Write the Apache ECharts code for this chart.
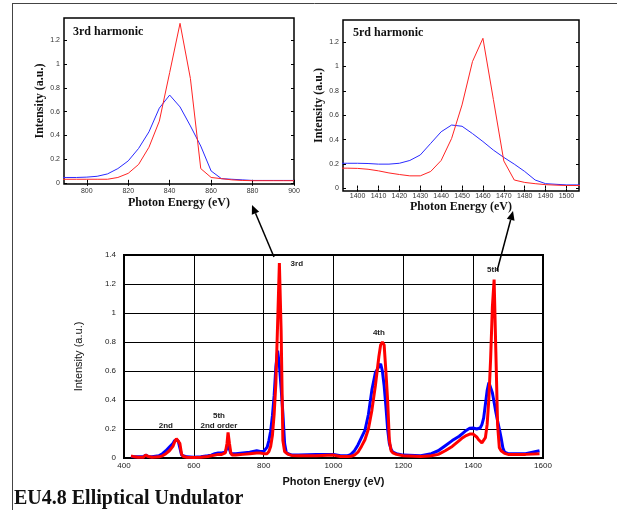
<!DOCTYPE html>
<html><head><meta charset="utf-8">
<script src="https://cdn.jsdelivr.net/npm/echarts@6/dist/echarts.min.js"></script>
<style>html,body{margin:0;padding:0;background:#fff}#c{width:617px;height:510px}</style>
</head><body><div id="c"></div>
<script>
// ---------- main chart data ----------
const mainEnergy = [420,430,440,455,462,466,470,480,500,510,
  520,530,540,545,550,555,560,565,570,580,
  600,620,640,650,660,670,680,690,695,698,
  702,706,710,720,740,760,780,790,800,805,
  810,815,820,825,830,835,840,845,850,855,
  860,865,870,880,900,950,1000,1020,1040,1050,
  1060,1070,1080,1090,1100,1110,1120,1130,1135,1140,
  1145,1150,1155,1160,1165,1170,1180,1200,1250,1280,
  1300,1320,1340,1360,1370,1380,1390,1395,1400,1405,
  1410,1415,1420,1425,1430,1435,1440,1445,1450,1455,
  1460,1465,1470,1475,1480,1485,1490,1500,1550,1590];
const mainBlue = [0.01,0.008,0.008,0.008,0.02,0.025,0.01,0.008,0.015,0.03,
  0.05,0.075,0.1,0.12,0.125,0.12,0.07,0.02,0.01,0.008,
  0.005,0.008,0.015,0.02,0.03,0.035,0.035,0.04,0.07,0.09,
  0.06,0.03,0.025,0.03,0.035,0.04,0.05,0.045,0.045,0.055,
  0.075,0.12,0.185,0.29,0.43,0.63,0.74,0.64,0.48,0.31,
  0.1,0.035,0.03,0.02,0.02,0.025,0.025,0.015,0.015,0.025,
  0.05,0.09,0.14,0.19,0.3,0.47,0.59,0.63,0.65,0.6,
  0.5,0.36,0.2,0.1,0.06,0.04,0.03,0.02,0.015,0.03,
  0.05,0.085,0.12,0.15,0.17,0.19,0.205,0.207,0.207,0.205,
  0.2,0.2,0.207,0.23,0.275,0.37,0.465,0.52,0.51,0.45,
  0.385,0.315,0.255,0.2,0.14,0.07,0.04,0.03,0.03,0.05];
const mainRed = [0.015,0.008,0.005,0.005,0.02,0.03,0.01,0.005,0.008,0.015,
  0.03,0.05,0.08,0.11,0.133,0.135,0.1,0.025,0.01,0.005,
  0.003,0.005,0.01,0.015,0.02,0.025,0.025,0.035,0.1,0.177,
  0.1,0.035,0.02,0.02,0.025,0.03,0.035,0.035,0.03,0.03,
  0.03,0.045,0.08,0.155,0.3,0.52,0.93,1.345,0.88,0.12,
  0.045,0.035,0.025,0.018,0.015,0.015,0.02,0.01,0.01,0.012,
  0.02,0.04,0.08,0.126,0.2,0.33,0.5,0.7,0.78,0.8,
  0.78,0.6,0.4,0.12,0.05,0.035,0.025,0.015,0.01,0.015,
  0.025,0.05,0.08,0.12,0.14,0.155,0.165,0.167,0.165,0.158,
  0.145,0.128,0.115,0.104,0.104,0.14,0.23,0.41,0.685,1.04,
  1.23,0.73,0.226,0.07,0.05,0.04,0.032,0.025,0.025,0.03];
const annoText = ['2nd','5th','2nd order','3rd','4th','5th'];
const annoE = [520,672,672,895,1130,1457];
const annoI = [0.223,0.294,0.223,1.34,0.862,1.297];

// ---------- 3rd harmonic inset ----------
const h3Energy = [785,790,795,800,805,810,815,820,825,830,835,840,845,850,855,860,865,870,875,880,885,890,895,900];
const h3Blue = [0.045,0.045,0.045,0.048,0.055,0.075,0.12,0.185,0.29,0.43,0.63,0.74,0.64,0.48,0.31,0.1,0.035,0.03,0.025,0.02,0.02,0.02,0.02,0.02];
const h3Red  = [0.03,0.03,0.03,0.03,0.03,0.03,0.045,0.08,0.155,0.3,0.52,0.93,1.345,0.88,0.12,0.045,0.035,0.025,0.02,0.018,0.018,0.018,0.018,0.018];
const h3XTicks = [800,820,840,860,880,900];

// ---------- 5th harmonic inset ----------
const h5Energy = [1390,1395,1400,1405,1410,1415,1420,1425,1430,1435,1440,1445,1450,1455,1460,1465,1470,1475,1480,1485,1490,1495,1500,1505,1510];
const h5Blue = [0.207,0.207,0.207,0.205,0.2,0.2,0.207,0.23,0.275,0.37,0.465,0.52,0.51,0.45,0.385,0.315,0.255,0.2,0.14,0.07,0.04,0.035,0.03,0.03,0.03];
const h5Red  = [0.167,0.167,0.165,0.158,0.145,0.128,0.115,0.104,0.104,0.14,0.23,0.41,0.685,1.04,1.23,0.73,0.226,0.07,0.05,0.04,0.032,0.028,0.025,0.025,0.025];
const h5XTicks = [1400,1410,1420,1430,1440,1450,1460,1470,1480,1490,1500];
const insetYTicks = [0,0.2,0.4,0.6,0.8,1,1.2];

const zip = (xs, ys) => xs.map((x, i) => [x, ys[i]]);
const fmt = v => String(Math.round(v * 1000) / 1000);
const serif = '"Liberation Serif","Times New Roman",serif';
const sans = '"Liberation Sans",Arial,sans-serif';

function insetX(grid, min, max, ticks, gap, margin) {
  return {
    type: 'value', gridIndex: grid, min: min, max: max,
    axisLine: {show: false},
    axisTick: {show: true, inside: true, length: 3, customValues: ticks, lineStyle: {color: '#000'}},
    axisLabel: {customValues: ticks, formatter: fmt, fontSize: 7, color: '#333', fontFamily: sans, margin: margin},
    splitLine: {show: false},
    name: 'Photon Energy (eV)', nameLocation: 'middle', nameGap: gap,
    nameTextStyle: {fontFamily: serif, fontWeight: 'bold', fontSize: 12, color: '#111'}
  };
}
function insetXTop(grid, min, max, ticks) {
  return {
    type: 'value', gridIndex: grid, min: min, max: max, position: 'top',
    axisLine: {show: false},
    axisTick: {show: true, inside: true, length: 3, customValues: ticks, lineStyle: {color: '#000'}},
    axisLabel: {show: false}, splitLine: {show: false}
  };
}
function insetY(grid, min, max, gap) {
  return {
    type: 'value', gridIndex: grid, min: min, max: max,
    axisLine: {show: false},
    axisTick: {show: true, inside: true, length: 3, customValues: insetYTicks, lineStyle: {color: '#000'}},
    axisLabel: {customValues: insetYTicks, formatter: fmt, fontSize: 7, color: '#333', fontFamily: sans, margin: 4},
    splitLine: {show: false},
    name: 'Intensity (a.u.)', nameLocation: 'middle', nameGap: gap,
    nameTextStyle: {fontFamily: serif, fontWeight: 'bold', fontSize: 12, color: '#111'}
  };
}
function insetYRight(grid, min, max) {
  return {
    type: 'value', gridIndex: grid, min: min, max: max, position: 'right',
    axisLine: {show: false},
    axisTick: {show: true, inside: true, length: 3, customValues: insetYTicks, lineStyle: {color: '#000'}},
    axisLabel: {show: false}, splitLine: {show: false}
  };
}
function lineSeries(xi, yi, data, color, width, z) {
  return {
    type: 'line', xAxisIndex: xi, yAxisIndex: yi, data: data,
    showSymbol: false, symbol: 'none', z: z,
    lineStyle: {color: color, width: width}, itemStyle: {color: color},
    silent: true, animation: false
  };
}

function arrow(tail, tip) {
  const dx = tip[0] - tail[0], dy = tip[1] - tail[1];
  const L = Math.hypot(dx, dy), ux = dx / L, uy = dy / L;
  const hl = 9, hw = 4;
  const bx = tip[0] - hl * ux, by = tip[1] - hl * uy;
  const nx = -uy, ny = ux;
  return [
    {type: 'line', shape: {x1: tail[0], y1: tail[1], x2: bx, y2: by}, style: {stroke: '#000', lineWidth: 1.5}, z: 100},
    {type: 'polygon', shape: {points: [[tip[0], tip[1]], [bx + hw * nx, by + hw * ny], [bx - hw * nx, by - hw * ny]]}, style: {fill: '#000'}, z: 100}
  ];
}

const chart = echarts.init(document.getElementById('c'), null, {renderer: 'canvas'});
const option = {
  animation: false,
  backgroundColor: '#fff',
  grid: [
    {left: 124, top: 255, width: 419, height: 203, show: true, borderColor: '#000', borderWidth: 2, backgroundColor: 'transparent'},
    {left: 64, top: 18, width: 230, height: 166, show: true, borderColor: '#000', borderWidth: 1.5, backgroundColor: 'transparent'},
    {left: 343, top: 20, width: 236, height: 171, show: true, borderColor: '#000', borderWidth: 1.5, backgroundColor: 'transparent'}
  ],
  xAxis: [
    {
      type: 'value', gridIndex: 0, min: 400, max: 1600, interval: 200,
      axisLine: {show: true, lineStyle: {color: '#000', width: 2}},
      axisTick: {show: false},
      axisLabel: {fontSize: 8, color: '#222', fontFamily: sans, margin: 4, formatter: fmt},
      splitLine: {show: true, lineStyle: {color: '#000', width: 1}},
      name: 'Photon Energy (eV)', nameLocation: 'middle', nameGap: 18,
      nameTextStyle: {fontFamily: sans, fontWeight: 'bold', fontSize: 11, color: '#111'}
    },
    insetX(1, 789, 900, h3XTicks, 13, 4),
    insetX(2, 1393, 1506, h5XTicks, 5, 2),
    insetXTop(1, 789, 900, h3XTicks),
    insetXTop(2, 1393, 1506, h5XTicks)
  ],
  yAxis: [
    {
      type: 'value', gridIndex: 0, min: 0, max: 1.4, interval: 0.2,
      axisLine: {show: true, lineStyle: {color: '#000', width: 2}},
      axisTick: {show: false},
      axisLabel: {fontSize: 8, color: '#222', fontFamily: sans, margin: 8, formatter: fmt},
      splitLine: {show: true, lineStyle: {color: '#000', width: 1}},
      name: 'Intensity (a.u.)', nameLocation: 'middle', nameGap: 40,
      nameTextStyle: {fontFamily: sans, fontSize: 11, color: '#111'}
    },
    insetY(1, -0.01, 1.39, 15),
    insetY(2, -0.02, 1.38, 12),
    insetYRight(1, -0.01, 1.39),
    insetYRight(2, -0.02, 1.38)
  ],
  series: [
    lineSeries(0, 0, zip(mainEnergy, mainBlue), '#0000ff', 3, 2),
    Object.assign(lineSeries(0, 0, zip(mainEnergy, mainRed), '#ff0000', 3, 3), {
      markPoint: {
        symbol: 'circle', symbolSize: 0, silent: true, animation: false,
        label: {show: true, position: 'inside', formatter: '{b}', fontSize: 8, fontWeight: 'bold', color: '#222', fontFamily: sans},
        data: annoText.map((t, i) => ({name: t, coord: [annoE[i], annoI[i]]}))
      }
    }),
    lineSeries(1, 1, zip(h3Energy, h3Blue), '#2a2aff', 1, 2),
    lineSeries(1, 1, zip(h3Energy, h3Red), '#ff2424', 1, 3),
    lineSeries(2, 2, zip(h5Energy, h5Blue), '#2a2aff', 1, 2),
    lineSeries(2, 2, zip(h5Energy, h5Red), '#ff2424', 1, 3)
  ],
  graphic: [
    {type: 'line', shape: {x1: 12, y1: 3.5, x2: 617, y2: 3.5}, style: {stroke: '#444', lineWidth: 1}},
    {type: 'line', shape: {x1: 12.5, y1: 3, x2: 12.5, y2: 510}, style: {stroke: '#444', lineWidth: 1}},
    {type: 'text', x: 73, y: 32, style: {text: '3rd harmonic', font: 'bold 12px ' + serif, fill: '#111', textVerticalAlign: 'middle'}},
    {type: 'text', x: 353, y: 33, style: {text: '5rd harmonic', font: 'bold 12px ' + serif, fill: '#111', textVerticalAlign: 'middle'}},
    {type: 'text', x: 14, y: 499, style: {text: 'EU4.8 Elliptical Undulator', font: 'bold 20px ' + serif, fill: '#111', textVerticalAlign: 'middle'}}
  ].concat(arrow([274, 257], [252, 205]), arrow([497, 271], [513, 211]))
};
chart.setOption(option);
</script>
</body></html>
